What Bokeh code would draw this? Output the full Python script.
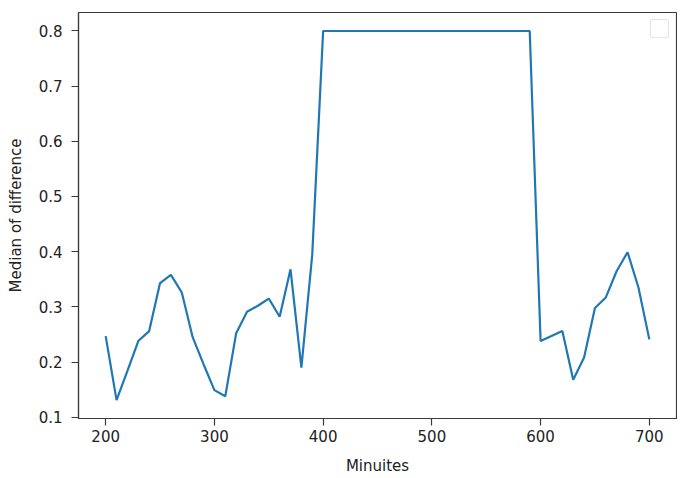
from bokeh.plotting import figure
from bokeh.models import Range1d, FixedTicker, Legend, LegendItem, ColumnDataSource
from bokeh.embed import file_html
from bokeh.resources import INLINE

# ---- data ----
minutes = [200, 210, 220, 230, 240, 250, 260, 270, 280, 290,
           300, 310, 320, 330, 340, 350, 360, 370, 380, 390,
           400, 410, 420, 430, 440, 450, 460, 470, 480, 490,
           500, 510, 520, 530, 540, 550, 560, 570, 580, 590,
           600, 610, 620, 630, 640, 650, 660, 670, 680, 690, 700]
median_diff = [0.247, 0.131, 0.184, 0.238, 0.256, 0.343, 0.358, 0.326, 0.245, 0.196,
               0.149, 0.138, 0.252, 0.291, 0.302, 0.315, 0.282, 0.368, 0.190, 0.395,
               0.800, 0.800, 0.800, 0.800, 0.800, 0.800, 0.800, 0.800, 0.800, 0.800,
               0.800, 0.800, 0.800, 0.800, 0.800, 0.800, 0.800, 0.800, 0.800, 0.800,
               0.238, 0.247, 0.256, 0.168, 0.208, 0.298, 0.317, 0.365, 0.399, 0.335, 0.241]
x_ticks = [200, 300, 400, 500, 600, 700]
y_ticks = [0.1, 0.2, 0.3, 0.4, 0.5, 0.6, 0.7, 0.8]
x_label = "Minuites"
y_label = "Median of difference"

FONT = "DejaVu Sans"
TXT = "#222222"
AX = "#3a3a3a"

src = ColumnDataSource(dict(x=minutes, y=median_diff))

p = figure(width=677, height=478, output_backend="svg", toolbar_location=None,
           x_range=Range1d(175, 725), y_range=Range1d(0.0976, 0.8335),
           min_border_left=78, min_border_right=1, min_border_top=12, min_border_bottom=60)
p.background_fill_color = "white"
p.border_fill_color = "white"
p.outline_line_color = AX
p.outline_line_width = 1.2
p.grid.visible = False

p.line("x", "y", source=src, line_color="#1f77b4", line_width=2.2)

# empty legend box (as in the reference)
dummy = p.line(x=[], y=[], line_alpha=0)
legend = Legend(items=[LegendItem(label=" ", renderers=[dummy])],
                location="top_right", margin=7, padding=8, spacing=0,
                glyph_width=1, glyph_height=1, label_standoff=0,
                label_width=0, label_height=0, label_text_font_size="1px",
                border_line_color="#cccccc", border_line_width=1,
                background_fill_color="white", background_fill_alpha=1)
try:
    legend.border_radius = 3
except Exception:
    pass
p.add_layout(legend)

for ax in (p.xaxis[0], p.yaxis[0]):
    ax.axis_line_color = AX
    ax.axis_line_width = 1.2
    ax.major_tick_line_color = AX
    ax.major_tick_line_width = 1.2
    ax.major_tick_out = 7
    ax.major_tick_in = 0
    ax.minor_tick_out = 0
    ax.minor_tick_in = 0
    ax.major_label_text_font = FONT
    ax.major_label_text_font_size = "15px"
    ax.major_label_text_color = TXT
    ax.axis_label_text_font = FONT
    ax.axis_label_text_font_size = "15px"
    ax.axis_label_text_font_style = "normal"
    ax.axis_label_text_color = TXT

p.xaxis[0].ticker = FixedTicker(ticks=x_ticks)
p.yaxis[0].ticker = FixedTicker(ticks=y_ticks)
p.xaxis[0].axis_label = x_label
p.yaxis[0].axis_label = y_label
p.xaxis[0].major_label_standoff = 4
p.yaxis[0].major_label_standoff = 9
p.xaxis[0].axis_label_standoff = 12
p.yaxis[0].axis_label_standoff = 11

open("out.html", "w").write(file_html(p, INLINE))
